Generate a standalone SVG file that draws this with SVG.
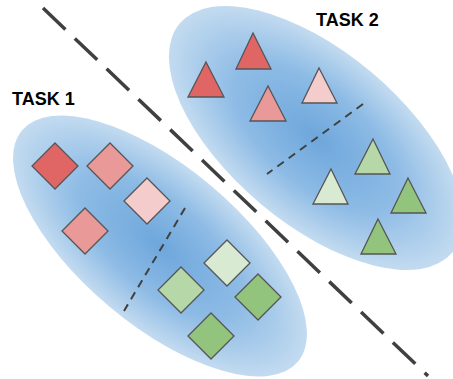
<svg xmlns="http://www.w3.org/2000/svg" width="453" height="379" viewBox="0 0 453 379">
  <defs>
    <radialGradient id="cluster" cx="50%" cy="50%" r="50%">
      <stop offset="0%" stop-color="#6ea7dc"/>
      <stop offset="55%" stop-color="#8dbbe5"/>
      <stop offset="100%" stop-color="#c3dbf0"/>
    </radialGradient>
    <style>
      .region { fill: url(#cluster); }
      .shape { stroke: #555555; stroke-width: 1.3; stroke-linejoin: miter; }
      .r1 { fill: #e06666; }
      .r2 { fill: #ea9999; }
      .r3 { fill: #f4cccc; }
      .g1 { fill: #d9ead3; }
      .g2 { fill: #b6d7a8; }
      .g3 { fill: #93c47d; }
      .divider { stroke: #404040; stroke-width: 3.5; stroke-dasharray: 31 13; fill: none; }
      .split { stroke: #404040; stroke-width: 2; stroke-dasharray: 8 6; fill: none; }
      .label { font-family: "Liberation Sans", Arial, sans-serif; font-weight: bold; font-size: 18px; fill: #000000; }
    </style>
  </defs>

  <!-- task regions -->
  <g id="task1-region">
    <ellipse class="region" cx="0" cy="0" rx="180" ry="79" transform="translate(160 246) rotate(40)"/>
  </g>
  <g id="task2-region">
    <ellipse class="region" cx="0" cy="0" rx="178" ry="86" transform="translate(316 138) rotate(40)"/>
  </g>

  <!-- separators -->
  <g id="connectors">
    <line class="divider" x1="43" y1="8" x2="428" y2="376"/>
    <line class="split" x1="185" y1="208" x2="124" y2="311"/>
    <line class="split" x1="363" y1="104" x2="267" y2="174"/>
  </g>

  <!-- task 1 samples -->
  <g id="d1"><polygon class="shape r1" points="55,143 78,166 55,189 32,166"/></g>
  <g id="d2"><polygon class="shape r2" points="110,143 133,166 110,189 87,166"/></g>
  <g id="d3"><polygon class="shape r3" points="147,178 170,201 147,224 124,201"/></g>
  <g id="d4"><polygon class="shape r2" points="85,208 108,231 85,254 62,231"/></g>
  <g id="d5"><polygon class="shape g1" points="227,240 250,263 227,286 204,263"/></g>
  <g id="d6"><polygon class="shape g2" points="181,267 204,290 181,313 158,290"/></g>
  <g id="d7"><polygon class="shape g3" points="258,274 281,297 258,320 235,297"/></g>
  <g id="d8"><polygon class="shape g3" points="211,313 234,336 211,359 188,336"/></g>

  <!-- task 2 samples -->
  <g id="t1"><polygon class="shape r1" points="206,62 224,97 188,97"/></g>
  <g id="t2"><polygon class="shape r1" points="253,33 271,69 236,69"/></g>
  <g id="t3"><polygon class="shape r2" points="268,86 286,121 250,121"/></g>
  <g id="t4"><polygon class="shape r3" points="319,68 337,103 302,103"/></g>
  <g id="t5"><polygon class="shape g2" points="373,139 390,174 355,174"/></g>
  <g id="t6"><polygon class="shape g1" points="331,169 348,204 313,204"/></g>
  <g id="t7"><polygon class="shape g3" points="408,178 426,213 391,213"/></g>
  <g id="t8"><polygon class="shape g3" points="378,219 396,254 361,254"/></g>

  <!-- labels -->
  <g id="label-task1"><text class="label" x="12" y="105">TASK 1</text></g>
  <g id="label-task2"><text class="label" x="316" y="26">TASK 2</text></g>
</svg>
